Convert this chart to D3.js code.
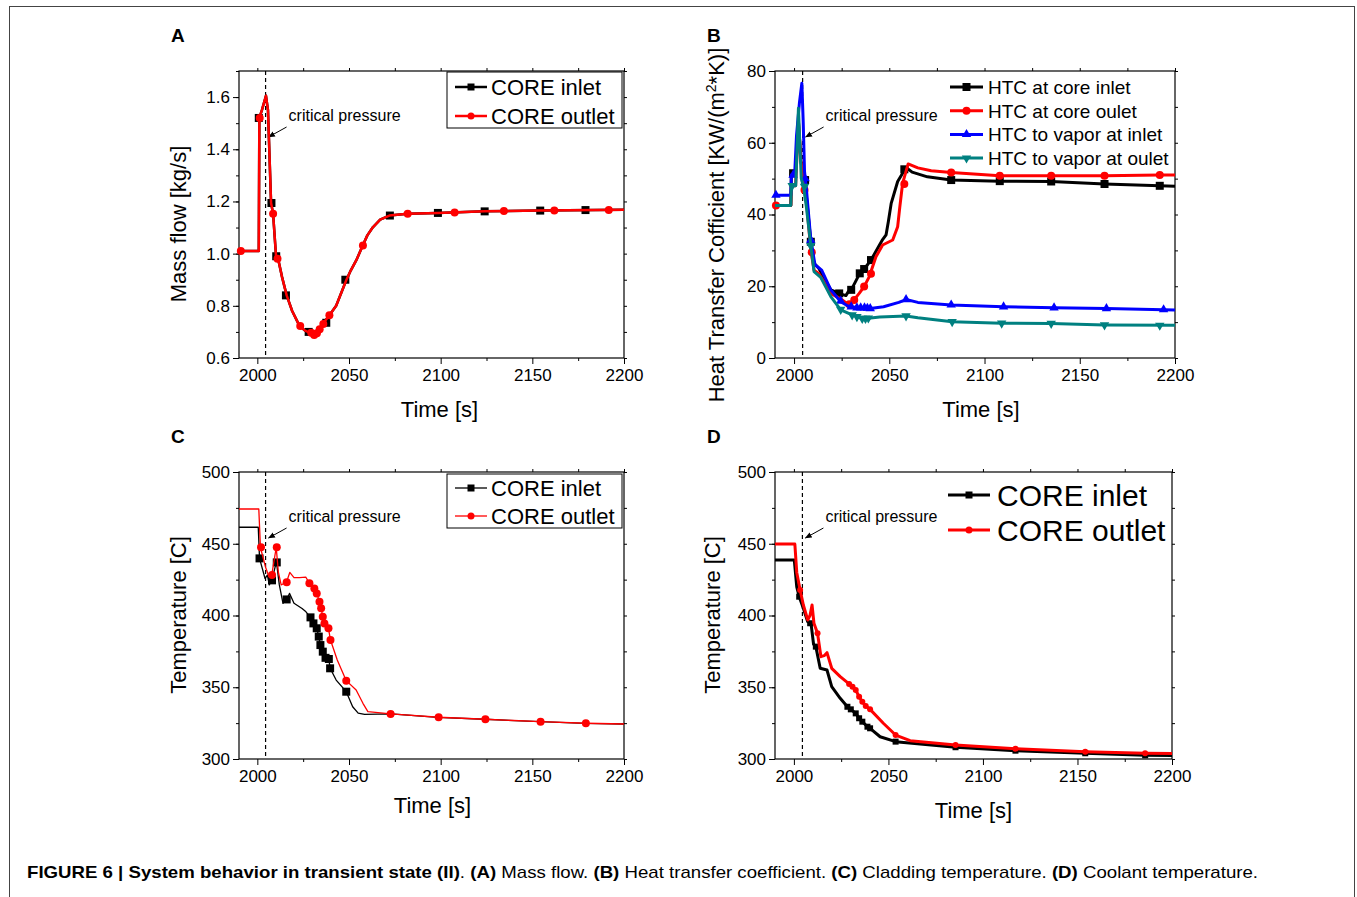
<!DOCTYPE html>
<html>
<head>
<meta charset="utf-8">
<script src="https://cdn.jsdelivr.net/npm/d3@7"></script>
<style>
  body { margin: 0; background: #fff; }
  text { font-family: "Liberation Sans", Arial, Helvetica, sans-serif; }
</style>
</head>
<body>
<svg id="fig" width="1357" height="897"></svg>
<script>
// ---- data (time [s], value) ----
const timeDomain = [1990, 2200];
const timeTicks = [2000, 2050, 2100, 2150, 2200];
const criticalTime = 2004.5;

// A: mass flow [kg/s]
const massInlet = [[1990,1.01],[2000.8,1.01],[2001.1,1.52],[2002.5,1.55],[2004.7,1.605],[2005.8,1.55],[2007.5,1.194],[2008.6,1.153],[2010.2,0.99],[2011.5,0.975],[2013.5,0.91],[2016,0.84],[2019,0.78],[2023,0.723],[2026,0.705],[2028.4,0.697],[2031,0.688],[2033,0.70],[2035.7,0.73],[2039.3,0.764],[2043,0.80],[2048.5,0.898],[2051,0.936],[2054,0.975],[2057.5,1.031],[2060,1.07],[2063,1.101],[2067,1.13],[2072,1.146],[2082,1.153],[2098.5,1.156],[2124,1.162],[2154,1.165],[2200,1.168]];
const massInletMarks = [[2000.8,1.52],[2007.7,1.194],[2010.3,0.99],[2015.6,0.84],[2028,0.70],[2037.6,0.735],[2048,0.90],[2072.3,1.146],[2098.5,1.156],[2124,1.162],[2154.3,1.165],[2179,1.167]];
const massOutlet = massInlet;
const massOutletMarks = [[1991,1.01],[2001.3,1.52],[2008.6,1.153],[2011,0.98],[2023.4,0.723],[2029.4,0.697],[2031,0.688],[2032.5,0.695],[2034,0.71],[2036,0.73],[2039.3,0.764],[2057.6,1.031],[2082,1.153],[2107.6,1.158],[2134.5,1.163],[2162,1.165],[2191.7,1.167]];

// B: heat transfer coefficient [KW/(m2*K)]
const htcInlet = [[1990,42.5],[1998.3,42.5],[1998.6,51.5],[2000.8,51.5],[2002.3,66],[2003.6,55],[2005,50.2],[2006.5,45],[2008.8,32.4],[2010.5,26.4],[2013,25],[2016,22],[2019.3,19],[2023.7,18],[2027.2,17.4],[2028.5,18.5],[2030,19],[2032,21],[2034.5,23.6],[2036.8,24.8],[2040.4,27.3],[2043.9,30.6],[2046.5,33],[2048.3,34.3],[2049.5,38],[2051,43.1],[2054.4,49.2],[2058.8,53.1],[2062,51.8],[2070,50.5],[2082.5,49.6],[2108,49.3],[2135,49.2],[2163,48.5],[2192,48],[2200,47.9]];
const htcInletMarks = [[1999.5,51.5],[2005.8,49.6],[2008.8,32.4],[2023.7,18],[2030,19],[2034.5,23.6],[2036.8,24.8],[2040.4,27.3],[2057.9,52.6],[2082.5,49.6],[2108,49.3],[2135,49.2],[2163,48.5],[2192,48]];
const htcOutlet = [[1990,42.5],[1998.3,42.5],[1998.6,48],[2000.8,48],[2002.3,66],[2003.6,55],[2005.5,46.8],[2006.8,42],[2008.8,30],[2010.5,24.5],[2013,23.5],[2016,21],[2019.3,18],[2025.3,16.2],[2028.8,14.8],[2031.5,16.2],[2034.2,18],[2036.8,19.9],[2039.5,22.7],[2043,28.2],[2046.5,31.5],[2051.8,32.9],[2054.4,36.6],[2055.5,42],[2057,48.7],[2059.9,54.1],[2065,53],[2072,52.2],[2082.5,51.7],[2108,50.8],[2135,50.8],[2163,50.8],[2192,51],[2200,51]];
const htcOutletMarks = [[1990.5,42.5],[2005.5,46.8],[2009.3,29.5],[2029,15],[2031.6,16.2],[2036.8,19.9],[2040.4,23.5],[2057.9,48.5],[2082.5,51.7],[2108,50.8],[2135,50.8],[2163,50.8],[2192,51]];
const htcVaporInlet = [[1990,45.4],[1998.3,45.4],[1998.6,51],[2000.3,51],[2001.3,62],[2002.8,71],[2004.1,76.6],[2004.8,66],[2005.5,52],[2006.5,47],[2008.8,32.9],[2011,26],[2014.5,24.5],[2019.3,19],[2024.5,15.7],[2029,14.3],[2040,13.8],[2047,14.3],[2055,15.5],[2058.8,16.3],[2065,15.5],[2082.5,14.8],[2110,14.3],[2136.5,14],[2164,13.8],[2200,13.4]];
const htcVaporInletMarks = [[1990.5,45.4],[1999.5,51],[2005.8,50],[2008.8,32.9],[2024.5,15.9],[2030,14.3],[2033,14],[2035,14],[2037,14],[2038.5,13.9],[2040,13.8],[2058.8,16.3],[2082.5,14.8],[2110,14.3],[2136.5,14],[2164,13.8],[2194,13.5]];
const htcVaporOutlet = [[1990,42.5],[1998.3,42.5],[1998.6,48],[2000.9,48],[2002.3,69.6],[2003.8,50],[2005,47.8],[2006.5,42],[2008.8,31.3],[2010.5,24.1],[2014,22.5],[2019.3,17.1],[2024.5,13.4],[2030.5,12],[2035.8,11],[2039,11.1],[2045,11.4],[2058.8,11.7],[2065,11.2],[2083,10.1],[2109,9.7],[2135,9.6],[2163,9.2],[2200,9.1]];
const htcVaporOutletMarks = [[1999,48],[2005.5,47.8],[2008.8,31.3],[2024.5,13.5],[2030.5,12],[2033,11.5],[2035.8,11],[2037.5,11],[2039,11.1],[2058.8,11.7],[2083,10.1],[2109,9.7],[2135,9.6],[2163,9.2],[2192,9.1]];

// C: cladding temperature [C]
const cladInlet = [[1990,461.5],[2000.5,461.5],[2001.2,439.8],[2004.2,425.8],[2005.5,428.2],[2006.5,421.3],[2008,424.7],[2010.4,437.5],[2012,421.3],[2014,408.5],[2016,411.2],[2017.6,415.4],[2020,408.5],[2024.4,404.9],[2026.2,403],[2029,398.7],[2030.6,394.5],[2032.4,391.1],[2033.5,385.3],[2034.4,379.4],[2035.7,374.8],[2037.2,370.5],[2039,369.7],[2039.7,363.2],[2043,355],[2048.5,346.9],[2052,336.4],[2055,332],[2058.5,331.1],[2073,331.4],[2098.5,329],[2124,327.7],[2154,326],[2179,324.8],[2200,324.4]];
const cladInletMarks = [[2001.2,439.8],[2008,424.5],[2010.6,437],[2016,411.2],[2029,398.7],[2030.6,394.5],[2032.4,391.1],[2033.5,385.3],[2034.4,379.4],[2035.7,374.8],[2037.2,370.5],[2039,369.7],[2039.7,363.2],[2048.5,346.9]];
const cladOutlet = [[1990,474.2],[2000.8,474.2],[2001.7,447.4],[2004.4,434],[2006.2,427.5],[2008,429.4],[2010.3,447.4],[2011.5,430],[2013,421.3],[2016,423.6],[2017.7,430],[2020,426.4],[2023,426.4],[2026.4,426.8],[2028.4,422.4],[2031.1,418.9],[2032.4,415.4],[2033.9,409.6],[2034.8,405],[2035.7,399.2],[2036.6,394.5],[2038.8,391.1],[2039.9,382.9],[2043.6,369],[2048.5,354.6],[2053.9,348.1],[2057.6,338.8],[2060.3,333],[2072.7,331.4],[2098.9,329.1],[2124.4,327.7],[2154.5,326],[2179.2,324.9],[2200,324.4]];
const cladOutletMarks = [[2002,447.5],[2008,428.2],[2010.6,447.5],[2016,423.1],[2028.4,422.4],[2031.1,418.9],[2032.4,415.4],[2033.9,409.6],[2034.8,405],[2035.7,399.2],[2036.6,394.5],[2038.8,391.1],[2039.9,382.9],[2048.5,354.6],[2072.7,331.4],[2098.9,329.1],[2124.4,327.7],[2154.5,326],[2179.2,324.9]];

// D: coolant temperature [C]
const coolInlet = [[1990,438.7],[2000.2,438.7],[2001.5,420],[2002.8,413.1],[2005,405],[2007.3,395.7],[2009,395],[2010.4,380],[2011.6,378.3],[2013.9,363.2],[2017.5,362],[2020,350.4],[2024.5,342.3],[2028.3,336.4],[2030.1,334.6],[2032.7,331.8],[2034.5,328.4],[2036.2,326],[2038.9,322.5],[2040.3,321.4],[2045.6,315.5],[2053.8,312.1],[2085.5,308.2],[2117.2,305.8],[2154.1,304],[2185.8,302.6],[2200,302.5]];
const coolInletMarks = [[2002.8,413.1],[2008.6,394.6],[2011.6,378.3],[2028.3,336.4],[2030.1,334.6],[2032.7,331.8],[2034.5,328.4],[2036.2,326],[2038.9,322.5],[2040.3,321.4],[2053.8,312.1],[2085.5,308.2],[2117.2,305.8],[2154.1,304],[2185.8,302.6]];
const coolOutlet = [[1990,449.8],[2000.5,449.8],[2001.5,430],[2003.3,417.8],[2005,407.3],[2007.3,396.9],[2008.5,400],[2009.6,407.3],[2010.6,394.6],[2012.5,387.6],[2014.3,371.3],[2016,372],[2017.5,374.1],[2020,363.2],[2024.5,357.4],[2029.2,352.3],[2031,350.4],[2032.7,348.1],[2034.5,343.4],[2036.2,339.9],[2038,336.9],[2040.3,334.6],[2047.3,324.9],[2053.8,316.7],[2061.5,312.8],[2085.5,309.8],[2117.2,307.2],[2154.1,305.1],[2185.8,304],[2200,303.8]];
const coolOutletMarks = [[2003.3,417.8],[2012.5,387.6],[2029.2,352.3],[2031,350.4],[2032.7,348.1],[2034.5,343.4],[2036.2,339.9],[2038,336.9],[2040.3,334.6],[2053.8,316.7],[2085.5,309.8],[2117.2,307.2],[2154.1,305.1],[2185.8,304]];

const captionParts = [
  ["FIGURE 6 | System behavior in transient state (II)", true], [". ", false],
  ["(A)", true], [" Mass flow. ", false],
  ["(B)", true], [" Heat transfer coefficient. ", false],
  ["(C)", true], [" Cladding temperature. ", false],
  ["(D)", true], [" Coolant temperature.", false]
];

const svg = d3.select("#fig");

// thin frame round the whole figure
svg.append("rect")
  .attr("x", 9.5).attr("y", 6.5).attr("width", 1345).attr("height", 1000)
  .attr("fill", "none").attr("stroke", "#444").attr("stroke-width", 1);

svg.append("defs").append("marker")
  .attr("id", "arrow").attr("viewBox", "0 0 10 10")
  .attr("refX", 9).attr("refY", 5)
  .attr("markerWidth", 7).attr("markerHeight", 7)
  .attr("orient", "auto")
  .append("path").attr("d", "M0,1 L10,5 L0,9 Z").attr("fill", "#000");

const symbols = {
  square: s => d3.symbol(d3.symbolSquare, s * s)(),
  circle: s => d3.symbol(d3.symbolCircle, Math.PI * s * s / 4)(),
  up: s => d3.symbol(d3.symbolTriangle, s * s * 0.6)(),
  down: s => d3.symbol(d3.symbolTriangle, s * s * 0.6)()
};

function drawPanel(p) {
  const x = d3.scaleLinear().domain(timeDomain).range([p.left, p.right]);
  const y = d3.scaleLinear().domain(p.yDomain).range([p.bottom, p.top]);
  const g = svg.append("g");

  const minorX = d3.range(2000, 2201, 25).filter(v => v % 50 !== 0);
  const minorY = d3.range(p.yDomain[0], p.yDomain[1] + 1e-9, p.yMinor);

  // bottom axis
  g.append("g").attr("transform", `translate(0,${p.bottom})`)
    .call(d3.axisBottom(x).tickValues(timeTicks).tickSize(6).tickPadding(5).tickFormat(d3.format("d")));
  g.append("g").attr("transform", `translate(0,${p.bottom})`)
    .call(d3.axisBottom(x).tickValues(minorX).tickSize(3).tickFormat(""));
  // left axis
  g.append("g").attr("transform", `translate(${p.left},0)`)
    .call(d3.axisLeft(y).tickValues(p.yTicks).tickSize(6).tickPadding(3).tickFormat(p.yFormat));
  g.append("g").attr("transform", `translate(${p.left},0)`)
    .call(d3.axisLeft(y).tickValues(minorY).tickSize(3).tickFormat(""));
  // top / right mirrored ticks, no labels
  g.append("g").attr("transform", `translate(0,${p.top})`)
    .call(d3.axisTop(x).tickValues(timeTicks.concat(minorX)).tickSize(3).tickFormat(""));
  g.append("g").attr("transform", `translate(${p.right},0)`)
    .call(d3.axisRight(y).tickValues(minorY).tickSize(3).tickFormat(""));

  g.selectAll(".domain").remove();
  g.selectAll(".tick line").attr("stroke", "#000").attr("stroke-width", 1);
  g.selectAll(".tick text").attr("font-size", 17).attr("fill", "#000")
    .attr("font-family", '"Liberation Sans", Arial, sans-serif');

  g.append("rect")
    .attr("x", p.left).attr("y", p.top)
    .attr("width", p.right - p.left).attr("height", p.bottom - p.top)
    .attr("fill", "none").attr("stroke", "#000").attr("stroke-width", 1.2);

  // dashed critical pressure line
  const xc = x(criticalTime);
  g.append("line")
    .attr("x1", xc).attr("x2", xc).attr("y1", p.top).attr("y2", p.bottom)
    .attr("stroke", "#000").attr("stroke-width", 1.2).attr("stroke-dasharray", "4,3");
  g.append("text").attr("x", xc + 23).attr("y", p.top + 50)
    .attr("font-size", 16).text("critical pressure");
  g.append("line")
    .attr("x1", xc + 21).attr("y1", p.top + 56)
    .attr("x2", xc + 3).attr("y2", p.top + 66)
    .attr("stroke", "#000").attr("stroke-width", 1).attr("marker-end", "url(#arrow)");

  // series
  const line = d3.line().x(d => x(d[0])).y(d => y(d[1]));
  p.series.forEach(s => {
    g.append("path").datum(s.line)
      .attr("d", line).attr("fill", "none")
      .attr("stroke", s.color).attr("stroke-width", p.lineWidth)
      .attr("stroke-linejoin", "round");
    g.selectAll(null).data(s.marks).join("path")
      .attr("d", symbols[s.shape](p.markSize))
      .attr("transform", d => `translate(${x(d[0])},${y(d[1])})` + (s.shape === "down" ? " rotate(180)" : ""))
      .attr("fill", s.color);
  });

  // legend
  const L = p.legend;
  if (L.box) {
    g.append("rect").attr("x", L.box[0]).attr("y", L.box[1])
      .attr("width", L.box[2]).attr("height", L.box[3])
      .attr("fill", "#fff").attr("stroke", "#000").attr("stroke-width", 1);
  }
  p.series.forEach((s, i) => {
    const ly = L.y0 + i * L.dy;
    g.append("line").attr("x1", L.x0).attr("x2", L.x1).attr("y1", ly).attr("y2", ly)
      .attr("stroke", s.color).attr("stroke-width", p.lineWidth);
    g.append("path").attr("d", symbols[s.shape](L.markSize))
      .attr("transform", `translate(${(L.x0 + L.x1) / 2},${ly})` + (s.shape === "down" ? " rotate(180)" : ""))
      .attr("fill", s.color);
    g.append("text").attr("x", L.tx).attr("y", ly + L.fontSize * 0.36)
      .attr("font-size", L.fontSize).text(s.name);
  });

  // titles
  g.append("text").attr("x", (p.left + p.right) / 2 + p.xTitleDx).attr("y", p.bottom + p.xTitleDy)
    .attr("text-anchor", "middle").attr("font-size", 22).text("Time [s]");
  const yt = g.append("text")
    .attr("transform", `translate(${p.yTitleX},${p.yTitleY}) rotate(-90)`)
    .attr("text-anchor", "middle").attr("font-size", 22);
  p.yTitle.forEach(([t, sup]) => {
    const ts = yt.append("tspan").text(t);
    if (sup) ts.attr("font-size", 14).attr("baseline-shift", "super");
  });
  g.append("text").attr("x", p.letterX).attr("y", p.top - 29)
    .attr("font-size", 19).attr("font-weight", "bold").text(p.letter);
}

drawPanel({
  letter: "A", letterX: 171, left: 239, right: 624, top: 71, bottom: 358,
  yDomain: [0.6, 1.7], yTicks: [0.6, 0.8, 1.0, 1.2, 1.4, 1.6], yMinor: 0.1, yFormat: d3.format(".1f"),
  yTitle: [["Mass flow [kg/s]"]], yTitleX: 186, yTitleY: 224, xTitleDy: 59, xTitleDx: 8,
  lineWidth: 2.5, markSize: 8,
  series: [
    { name: "CORE inlet", line: massInlet, marks: massInletMarks, color: "#000", shape: "square" },
    { name: "CORE outlet", line: massOutlet, marks: massOutletMarks, color: "#ff0000", shape: "circle" }
  ],
  legend: { box: [447, 72, 175, 56], x0: 455, x1: 487, tx: 491, y0: 87, dy: 29, fontSize: 22, markSize: 7 }
});

drawPanel({
  letter: "B", letterX: 707, left: 775, right: 1175, top: 71, bottom: 358,
  yDomain: [0, 80], yTicks: [0, 20, 40, 60, 80], yMinor: 10, yFormat: d3.format("d"),
  yTitle: [["Heat Transfer Cofficient [KW/(m"], ["2", true], ["*K)]"]], yTitleX: 724, yTitleY: 225, xTitleDy: 59, xTitleDx: 6,
  lineWidth: 3, markSize: 8,
  series: [
    { name: "HTC at core inlet", line: htcInlet, marks: htcInletMarks, color: "#000", shape: "square" },
    { name: "HTC at core oulet", line: htcOutlet, marks: htcOutletMarks, color: "#ff0000", shape: "circle" },
    { name: "HTC to vapor at inlet", line: htcVaporInlet, marks: htcVaporInletMarks, color: "#0000ff", shape: "up" },
    { name: "HTC to vapor at oulet", line: htcVaporOutlet, marks: htcVaporOutletMarks, color: "#008080", shape: "down" }
  ],
  legend: { box: null, x0: 950, x1: 983, tx: 988, y0: 87, dy: 23.7, fontSize: 19, markSize: 8 }
});

drawPanel({
  letter: "C", letterX: 171, left: 239, right: 624, top: 472, bottom: 759,
  yDomain: [300, 500], yTicks: [300, 350, 400, 450, 500], yMinor: 25, yFormat: d3.format("d"),
  yTitle: [["Temperature [C]"]], yTitleX: 186, yTitleY: 615, xTitleDy: 54, xTitleDx: 1,
  lineWidth: 1.3, markSize: 8,
  series: [
    { name: "CORE inlet", line: cladInlet, marks: cladInletMarks, color: "#000", shape: "square" },
    { name: "CORE outlet", line: cladOutlet, marks: cladOutletMarks, color: "#ff0000", shape: "circle" }
  ],
  legend: { box: [447, 474, 175, 54], x0: 455, x1: 487, tx: 491, y0: 488, dy: 28, fontSize: 22, markSize: 7 }
});

drawPanel({
  letter: "D", letterX: 707, left: 775, right: 1172, top: 472, bottom: 759,
  yDomain: [300, 500], yTicks: [300, 350, 400, 450, 500], yMinor: 25, yFormat: d3.format("d"),
  yTitle: [["Temperature [C]"]], yTitleX: 720, yTitleY: 615, xTitleDy: 59, xTitleDx: 0,
  lineWidth: 3, markSize: 6,
  series: [
    { name: "CORE inlet", line: coolInlet, marks: coolInletMarks, color: "#000", shape: "square" },
    { name: "CORE outlet", line: coolOutlet, marks: coolOutletMarks, color: "#ff0000", shape: "circle" }
  ],
  legend: { box: null, x0: 948, x1: 990, tx: 997, y0: 495, dy: 35, fontSize: 30, markSize: 7 }
});

// caption
const cap = svg.append("text").attr("x", 27).attr("y", 878)
  .attr("font-size", 17).attr("textLength", 1231).attr("lengthAdjust", "spacingAndGlyphs");
captionParts.forEach(([t, bold]) => {
  cap.append("tspan").attr("font-weight", bold ? "bold" : "normal").text(t);
});
</script>
</body>
</html>
